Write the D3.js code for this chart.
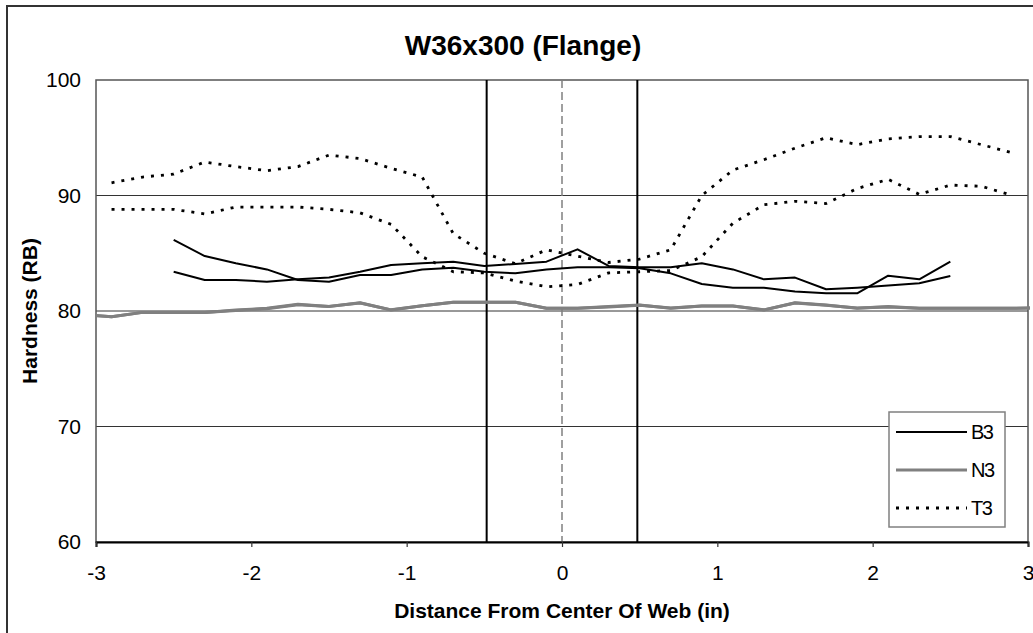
<!DOCTYPE html>
<html>
<head>
<meta charset="utf-8">
<script src="https://cdn.jsdelivr.net/npm/d3@7"></script>
<style>
    body { margin: 0; background: #fff; }
    svg { display: block; font-family: "Liberation Sans", Arial, sans-serif; }
</style>
</head>
<body>
<div id="chart"></div>
<script>
// Data (x in inches from web centre, hardness in RB)
const xT3 = [-2.9, -2.7, -2.5, -2.3, -2.1, -1.9, -1.7, -1.5, -1.3, -1.1, -0.9, -0.7, -0.5, -0.3, -0.1,
             0.1, 0.3, 0.5, 0.7, 0.9, 1.1, 1.3, 1.5, 1.7, 1.9, 2.1, 2.3, 2.5, 2.7, 2.9];
const t3Upper = [91.1, 91.6, 91.85, 92.9, 92.5, 92.15, 92.5, 93.5, 93.2, 92.35, 91.6, 86.7, 85.0, 84.1, 85.3,
                 84.75, 84.2, 84.5, 85.3, 90.0, 92.2, 93.1, 94.1, 95.0, 94.4, 94.9, 95.1, 95.1, 94.4, 93.7];
const t3Lower = [88.8, 88.8, 88.8, 88.4, 89.0, 89.0, 89.0, 88.8, 88.5, 87.5, 84.7, 83.4, 83.3, 82.6, 82.1,
                 82.3, 83.3, 83.4, 83.5, 84.7, 87.6, 89.2, 89.5, 89.3, 90.6, 91.4, 90.1, 90.9, 90.8, 90.0];

const xB3 = [-2.5, -2.3, -2.1, -1.9, -1.7, -1.5, -1.3, -1.1, -0.9, -0.7, -0.5, -0.3, -0.1,
             0.1, 0.3, 0.5, 0.7, 0.9, 1.1, 1.3, 1.5, 1.7, 1.9, 2.1, 2.3, 2.5];
const b3First = [86.15, 84.76, 84.13, 83.6, 82.68, 82.54, 83.12, 83.12, 83.6, 83.75, 83.4, 83.26, 83.6,
                 83.78, 83.78, 83.7, 83.26, 82.34, 82.02, 82.02, 81.68, 81.53, 81.53, 83.06, 82.74, 84.27];
const b3Second = [83.4, 82.68, 82.68, 82.54, 82.74, 82.9, 83.4, 83.98, 84.13, 84.27, 83.9, 84.07, 84.27,
                  85.34, 83.9, 83.78, 83.78, 84.13, 83.6, 82.74, 82.89, 81.88, 82.02, 82.2, 82.4, 83.03];

const xN3 = [-3.1, -2.9, -2.7, -2.5, -2.3, -2.1, -1.9, -1.7, -1.5, -1.3, -1.1, -0.9, -0.7, -0.5, -0.3, -0.1,
             0.1, 0.3, 0.5, 0.7, 0.9, 1.1, 1.3, 1.5, 1.7, 1.9, 2.1, 2.3, 2.5, 2.7, 2.9, 3.1];
const n3First = [79.7, 79.5, 79.88, 79.88, 79.88, 80.09, 80.23, 80.58, 80.38, 80.72, 80.09, 80.46, 80.75, 80.75, 80.75, 80.23,
                 80.23, 80.38, 80.52, 80.23, 80.43, 80.43, 80.09, 80.72, 80.52, 80.23, 80.38, 80.23, 80.23, 80.23, 80.23, 80.3];
const n3Second = [79.7, 79.5, 79.88, 79.88, 79.88, 80.05, 80.2, 80.55, 80.4, 80.7, 80.1, 80.45, 80.75, 80.75, 80.75, 80.23,
                  80.23, 80.35, 80.5, 80.25, 80.43, 80.43, 80.1, 80.7, 80.5, 80.25, 80.35, 80.23, 80.23, 80.23, 80.23, 80.3];

const xTicks = [-3, -2, -1, 0, 1, 2, 3];
const xTickLabels = ["-3", "-2", "-1", "0", "1", "2", "3"];
const yTicks = [60, 70, 80, 90, 100];
const gridValues = [70, 80, 90];
const webEdges = [-0.485, 0.485];
const webCentre = 0;
const legendLabels = ["B3", "N3", "T3"];

const width = 1033;
const height = 633;
const plot = { left: 96, right: 1028, top: 80, bottom: 542 };

const styles = {
    B3: { stroke: "#000", width: 2, dash: null },
    N3: { stroke: "#808080", width: 3, dash: null },
    T3: { stroke: "#000", width: 2.8, dash: "3,7" }
};

const svg = d3.select("#chart")
    .append("svg")
    .attr("width", width)
    .attr("height", height);

// chart frame (cut off on the right and bottom in the original)
svg.append("rect")
    .attr("x", 7)
    .attr("y", 6)
    .attr("width", 1060)
    .attr("height", 660)
    .attr("fill", "#fff")
    .attr("stroke", "#333")
    .attr("stroke-width", 2);

const xScale = d3.scaleLinear().domain([-3, 3]).range([plot.left, plot.right]);
const yScale = d3.scaleLinear().domain([60, 100]).range([plot.bottom, plot.top]);

svg.append("clipPath")
    .attr("id", "plot-clip")
    .append("rect")
    .attr("x", plot.left - 1)
    .attr("y", plot.top)
    .attr("width", plot.right - plot.left + 3)
    .attr("height", plot.bottom - plot.top);

// horizontal gridlines
svg.append("g")
    .selectAll("line")
    .data(gridValues)
    .join("line")
    .attr("x1", plot.left)
    .attr("x2", plot.right)
    .attr("y1", d => yScale(d))
    .attr("y2", d => yScale(d))
    .attr("stroke", "#333")
    .attr("stroke-width", 1);

// plot area border
svg.append("rect")
    .attr("x", plot.left)
    .attr("y", plot.top)
    .attr("width", plot.right - plot.left)
    .attr("height", plot.bottom - plot.top)
    .attr("fill", "none")
    .attr("stroke", "#555")
    .attr("stroke-width", 1.5);

// web edges and centre line
svg.append("g")
    .selectAll("line")
    .data(webEdges)
    .join("line")
    .attr("x1", d => xScale(d))
    .attr("x2", d => xScale(d))
    .attr("y1", plot.top)
    .attr("y2", plot.bottom)
    .attr("stroke", "#000")
    .attr("stroke-width", 2);

svg.append("line")
    .attr("x1", xScale(webCentre))
    .attr("x2", xScale(webCentre))
    .attr("y1", plot.top)
    .attr("y2", plot.bottom)
    .attr("stroke", "#808080")
    .attr("stroke-width", 1.5)
    .attr("stroke-dasharray", "8,4");

// series
const series = [
    { name: "N3", xs: xN3, ys: n3First },
    { name: "N3", xs: xN3, ys: n3Second },
    { name: "B3", xs: xB3, ys: b3First },
    { name: "B3", xs: xB3, ys: b3Second },
    { name: "T3", xs: xT3, ys: t3Upper },
    { name: "T3", xs: xT3, ys: t3Lower }
];

const line = d3.line()
    .x(d => xScale(d[0]))
    .y(d => yScale(d[1]));

svg.append("g")
    .attr("clip-path", "url(#plot-clip)")
    .selectAll("path")
    .data(series)
    .join("path")
    .attr("d", s => line(s.xs.map((x, i) => [x, s.ys[i]])))
    .attr("fill", "none")
    .attr("stroke", s => styles[s.name].stroke)
    .attr("stroke-width", s => styles[s.name].width)
    .attr("stroke-dasharray", s => styles[s.name].dash)
    .attr("stroke-linejoin", "round");

// axes
const bottomAxis = d3.axisBottom(xScale)
    .tickValues(xTicks)
    .tickSize(5)
    .tickPadding(18)
    .tickFormat((d, i) => xTickLabels[i]);

const xAxisG = svg.append("g")
    .attr("transform", `translate(0, ${plot.bottom})`)
    .call(bottomAxis);
xAxisG.select(".domain").attr("stroke", "#000").attr("stroke-width", 2);
xAxisG.selectAll(".tick line").attr("stroke", "#333").attr("stroke-width", 1.2);
xAxisG.selectAll("text").attr("font-size", 21).attr("fill", "#000")
    .attr("font-family", "Liberation Sans, Arial, sans-serif");

const leftAxis = d3.axisLeft(yScale)
    .tickValues(yTicks)
    .tickSize(0)
    .tickPadding(15);

const yAxisG = svg.append("g")
    .attr("transform", `translate(${plot.left}, 0)`)
    .call(leftAxis);
yAxisG.select(".domain").remove();
yAxisG.selectAll("text").attr("font-size", 21).attr("fill", "#000")
    .attr("font-family", "Liberation Sans, Arial, sans-serif");

// titles
svg.append("text")
    .text("W36x300 (Flange)")
    .attr("x", 523)
    .attr("y", 55)
    .attr("text-anchor", "middle")
    .attr("font-size", 28)
    .attr("font-weight", "bold");

svg.append("text")
    .text("Distance From Center Of Web (in)")
    .attr("x", (plot.left + plot.right) / 2)
    .attr("y", 618)
    .attr("text-anchor", "middle")
    .attr("font-size", 21)
    .attr("font-weight", "bold");

svg.append("text")
    .text("Hardness (RB)")
    .attr("transform", `translate(37, ${(plot.top + plot.bottom) / 2}) rotate(-90)`)
    .attr("text-anchor", "middle")
    .attr("font-size", 21)
    .attr("font-weight", "bold");

// legend
const legend = svg.append("g")
    .attr("transform", "translate(889, 412)");

legend.append("rect")
    .attr("width", 116)
    .attr("height", 115)
    .attr("fill", "#fff")
    .attr("stroke", "#808080")
    .attr("stroke-width", 1.5);

legendLabels.forEach((label, i) => {
    const g = legend.append("g").attr("transform", `translate(0, ${20 + i * 38})`);

    g.append("line")
        .attr("x1", 7)
        .attr("x2", 78)
        .attr("stroke", styles[label].stroke)
        .attr("stroke-width", styles[label].width)
        .attr("stroke-dasharray", styles[label].dash);

    g.append("text")
        .attr("x", 82)
        .attr("y", 7)
        .attr("font-size", 20)
        .attr("letter-spacing", -1.5)
        .text(label);
});
</script>
</body>
</html>
